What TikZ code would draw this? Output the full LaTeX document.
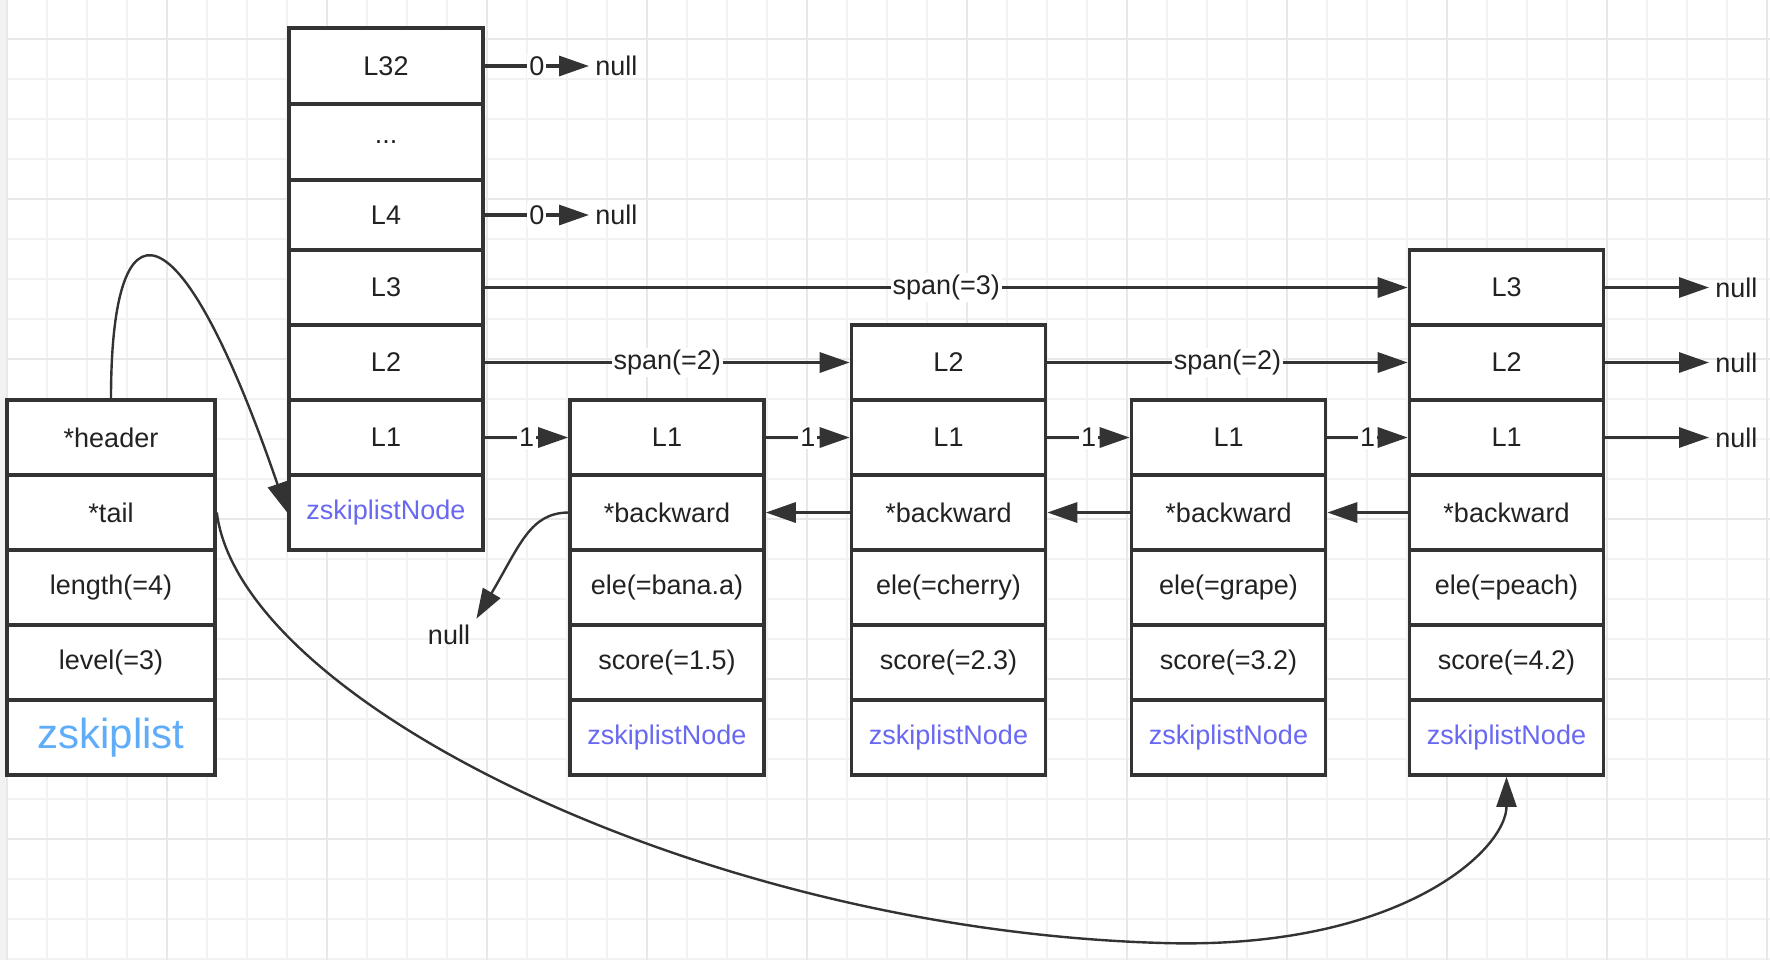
\documentclass[tikz,border=0pt]{standalone}
\usepackage{fontspec}
\setmainfont{Liberation Sans}
\usetikzlibrary{arrows.meta, positioning}
\definecolor{linec}{HTML}{333333}
\definecolor{txtc}{HTML}{222222}
\definecolor{nodec}{HTML}{6868F2}
\definecolor{listc}{HTML}{5FADF8}
\definecolor{gridc}{HTML}{F2F2F2}
\definecolor{gridmaj}{HTML}{E8E8E8}

\begin{document}
\begin{tikzpicture}[x=0.5pt, y=-0.5pt,
    cell/.style={draw=linec, line width=1.8pt, fill=white, minimum width=97pt, minimum height=37.5pt, inner sep=0pt, text=txtc, font=\fontsize{13.5}{15}\selectfont},
    wide/.style={cell, minimum width=104pt},
    objname/.style={text=nodec},
    nulltxt/.style={inner sep=3pt, text=txtc, font=\fontsize{13.5}{15}\selectfont},
    lbl/.style={fill=white, inner sep=1pt, text=txtc, font=\fontsize{13.5}{15}\selectfont},
    link/.style={draw=linec, line width=1.6pt, -{Triangle[length=15pt, width=10pt]}},
    curve/.style={link, line width=1.2pt}
]
    % background grid
    \useasboundingbox (0,0) rectangle (1770,960);
    \fill[white] (0,0) rectangle (1770,960);
    \fill[gridc] (0,0) rectangle (7,960);
    \foreach \gx in {7,47,...,1767} \draw[gridc, line width=1pt] (\gx,0) -- (\gx,960);
    \foreach \gy in {39,79,...,959} \draw[gridc, line width=1pt] (7,\gy) -- (1770,\gy);
    \foreach \gx in {7,167,...,1767} \draw[gridmaj, line width=1pt] (\gx,0) -- (\gx,960);
    \foreach \gy in {39,199,...,839} \draw[gridmaj, line width=1pt] (7,\gy) -- (1770,\gy);

    % zskiplist
    \node[wide] (hdr) at (111,437.5) {*header};
    \node[wide] (tail) at (111,512.5) {*tail};
    \node[wide] (len) at (111,587.5) {length(=4)};
    \node[wide] (lvl) at (111,662.5) {level(=3)};
    \node[wide, text=listc, font=\fontsize{21}{24}\selectfont] (zl) at (111,737.5) {zskiplist};

    % header node
    \node[cell, minimum height=38pt] (h32) at (386,66) {L32};
    \node[cell, minimum height=38pt] (hdots) at (386,142) {...};
    \node[cell, minimum height=35pt] (h4) at (386,215) {L4};
    \node[cell] (h3) at (386,287.5) {L3};
    \node[cell] (h2) at (386,362.5) {L2};
    \node[cell] (h1) at (386,437.5) {L1};
    \node[cell, objname] (hobj) at (386,512.5) {zskiplistNode};

    % element nodes
    \foreach \n/\x/\ele/\sc in {b/667/bana.a/1.5, c/948.5/cherry/2.3, g/1228.5/grape/3.2, p/1506.5/peach/4.2} {
        \node[cell] (\n-l1) at (\x,437.5) {L1};
        \node[cell] (\n-bk) at (\x,512.5) {*backward};
        \node[cell] (\n-ele) at (\x,587.5) {ele(=\ele)};
        \node[cell] (\n-sc) at (\x,662.5) {score(=\sc)};
        \node[cell, objname] (\n-obj) at (\x,737.5) {zskiplistNode};
    }
    \node[cell] (c-l2) at (948.5,362.5) {L2};
    \node[cell] (p-l3) at (1506.5,287.5) {L3};
    \node[cell] (p-l2) at (1506.5,362.5) {L2};

    % null ends
    \node[nulltxt, anchor=west] (null32) at (589,66) {null};
    \node[nulltxt, anchor=west] (null4) at (589,215) {null};
    \node[nulltxt, anchor=west] (nullp3) at (1709,287.5) {null};
    \node[nulltxt, anchor=west] (nullp2) at (1709,362.5) {null};
    \node[nulltxt, anchor=west] (nullp1) at (1709,437.5) {null};
    \node[nulltxt] (nullb) at (449,635) {null};
    \coordinate (tlow) at (1163,943);

    % forward links
    \draw[link] (h32) -- node[lbl] {0} (null32);
    \draw[link] (h4) -- node[lbl] {0} (null4);
    \draw[link] (h3) -- node[lbl] {span(=3)} (p-l3);
    \draw[link] (h2) -- node[lbl] {span(=2)} (c-l2);
    \draw[link] (c-l2) -- node[lbl] {span(=2)} (p-l2);
    \foreach \a/\b in {h1/b-l1, b-l1/c-l1, c-l1/g-l1, g-l1/p-l1}
        \draw[link] (\a) -- node[lbl] {1} (\b);
    \foreach \a/\b in {p-l3/nullp3, p-l2/nullp2, p-l1/nullp1}
        \draw[link] (\a) -- (\b);

    % backward links
    \foreach \a/\b in {c-bk/b-bk, g-bk/c-bk, p-bk/g-bk}
        \draw[link] (\a) -- (\b);
    \draw[curve] (b-bk.west) .. controls (530,513) and (520,545) .. (nullb.north east);

    % header and tail pointers
    \draw[curve] (hdr.north) .. controls (111,195) and (178,195) .. (hobj.west);
    \draw[curve] (tail.east) .. controls (240,700) and (700,930) .. (tlow)
        .. controls (1400,950) and (1506.5,850) .. (p-obj.south);
\end{tikzpicture}
\end{document}
